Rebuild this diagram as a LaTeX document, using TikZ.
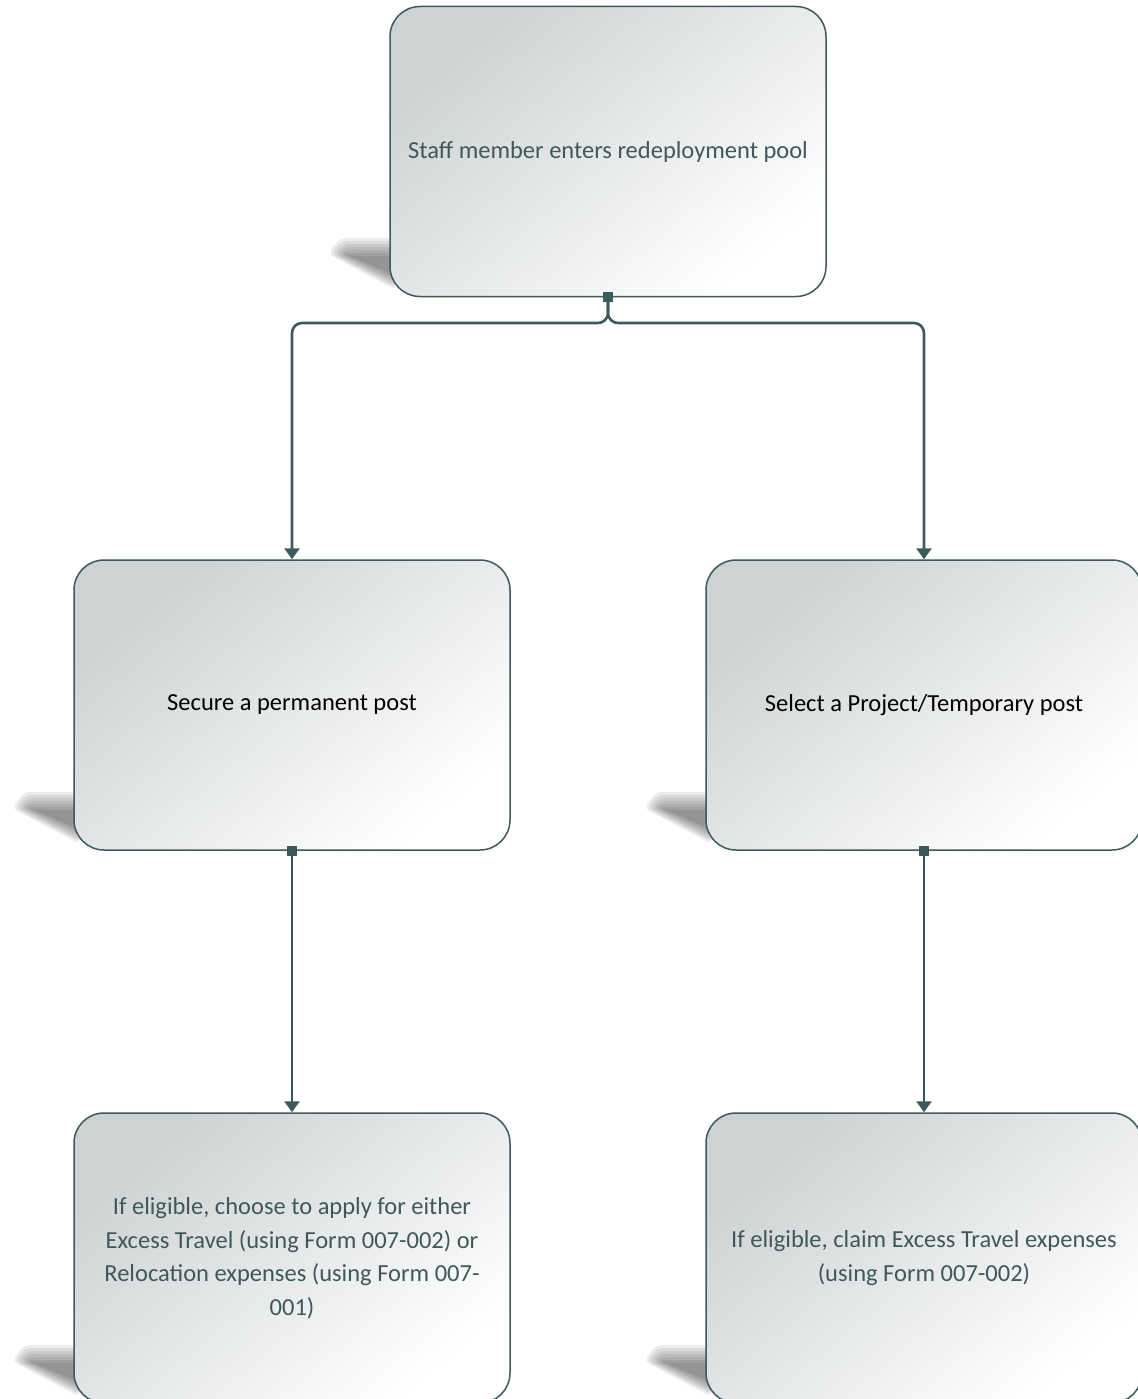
\documentclass[tikz,border=0pt]{standalone}
\usepackage{fontspec}
\setmainfont{Carlito}
\usetikzlibrary{arrows.meta,calc}
\definecolor{linec}{HTML}{3D5A5A}
\definecolor{txtc}{HTML}{3F5858}
\definecolor{boxg}{HTML}{CDD2D3}
\tikzset{
  box/.style={draw=linec, line width=1.5pt, rounded corners=30pt,
    minimum width=436pt, minimum height=290pt, inner sep=0pt,
    align=center, font=\fontsize{24.5}{33.5}\selectfont,
    shading=axis, top color=boxg, bottom color=white, shading angle=40},
  conn/.style={draw=linec, line width=2.6pt, rounded corners=10pt,
    -{Triangle[length=11pt,width=15pt]}},
  shadowlayer/.style={fill=black, fill opacity=0.075, draw=none, rounded corners=6pt}
}
\newcommand{\boxshadow}[2]{%
  \foreach \d in {10,7,4,1,-2,-5,-8}{%
    \fill[shadowlayer]
      (#1+6,#2-48-\d) -- (#1-44-0.6*\d,#2-48-\d) -- (#1-52-\d,#2-42) -- (#1+6,#2-14+0.8*\d) -- cycle;}}
\newcommand{\stub}[1]{\fill[linec] ($(#1)+(-5pt,-5pt)$) rectangle ($(#1)+(5pt,5pt)$);}
\begin{document}
\begin{tikzpicture}[x=1pt,y=-1pt]
\useasboundingbox (0,0) rectangle (1137,1399);
% shadows
\boxshadow{390}{296}
\boxshadow{74}{850}
\boxshadow{706}{850}
\boxshadow{74}{1403}
\boxshadow{706}{1403}
% boxes
\node[box, text=txtc] (t) at (608,151.5) {Staff member enters redeployment pool};
\node[box, text=black] (l) at (292,705) {Secure a permanent post};
\node[box, text=black] (r) at (924,705) {Select a Project/Temporary post};
\node[box, text=txtc] (bl) at (292,1258) {If eligible, choose to apply for either\\Excess Travel (using Form 007-002) or\\Relocation expenses (using Form 007-\\001)};
\node[box, text=txtc] (br) at (924,1258) {If eligible, claim Excess Travel expenses\\(using Form 007-002)};
% connectors
\coordinate (split) at (608,323);
\draw[conn] (t.south) -- (split) -| (l.north);
\draw[conn] (t.south) -- (split) -| (r.north);
\draw[conn] (l.south) -- (bl.north);
\draw[conn] (r.south) -- (br.north);
\stub{t.south}
\stub{l.south}
\stub{r.south}
\end{tikzpicture}
\end{document}
